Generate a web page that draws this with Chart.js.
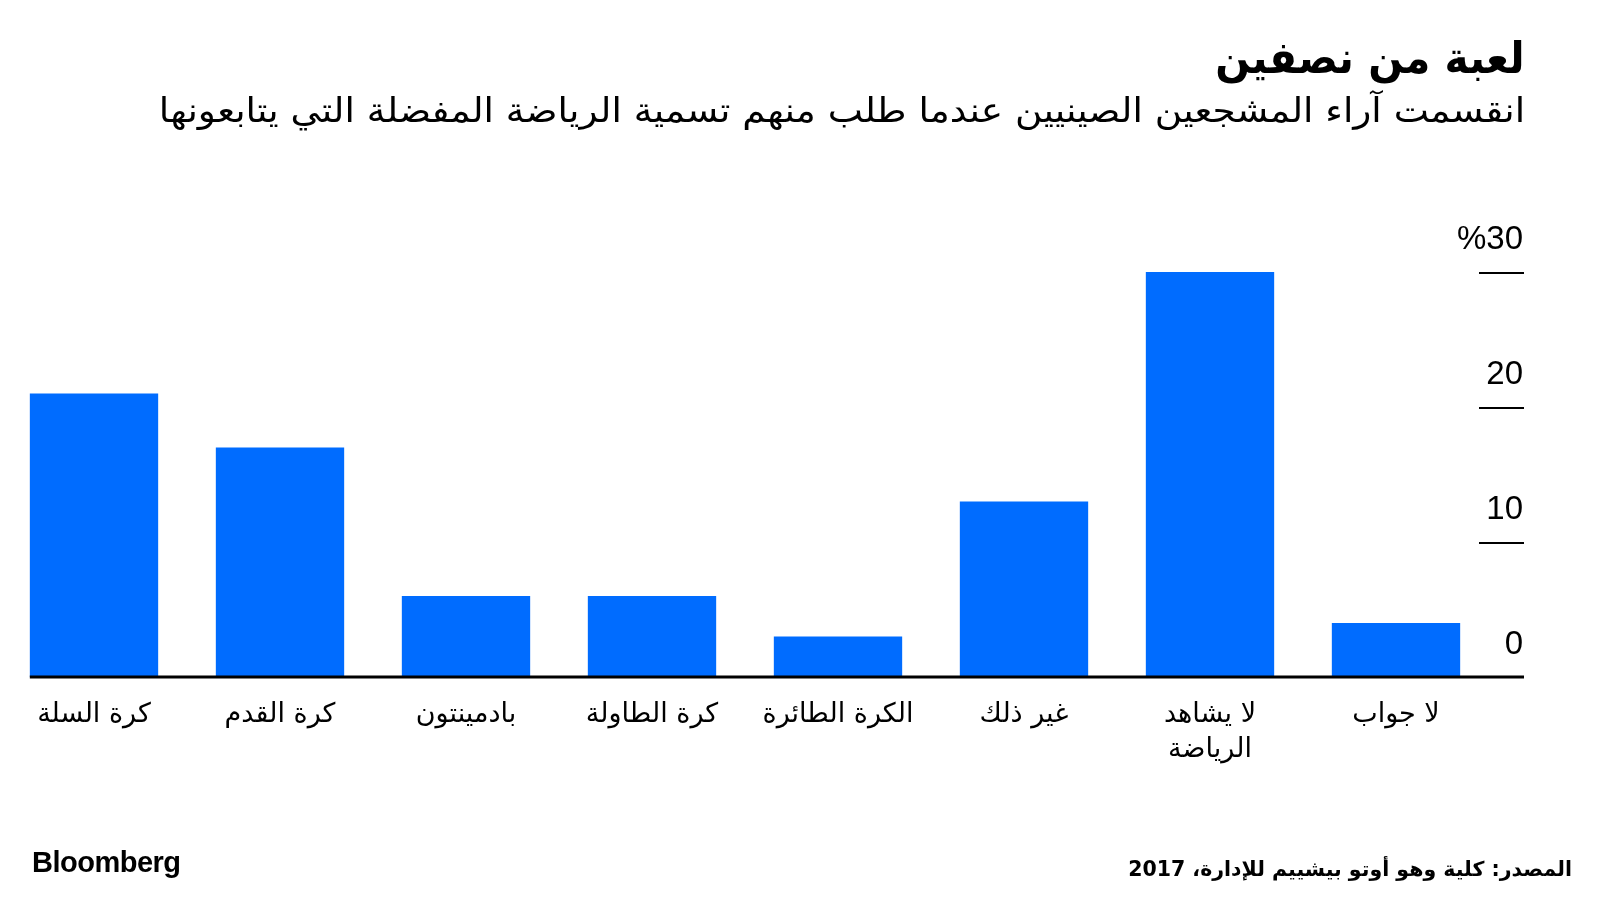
<!DOCTYPE html>
<html lang="ar">
<head>
<meta charset="UTF-8">
<title>لعبة من نصفين</title>
<script src="https://cdn.jsdelivr.net/npm/chart.js"></script>
<style>
    html, body {
        margin: 0;
        padding: 0;
        background: #fff;
    }
    .page {
        position: relative;
        width: 1600px;
        height: 900px;
        overflow: hidden;
    }
    canvas {
        position: absolute;
        left: 0;
        top: 0;
        direction: ltr;
    }
    .txt {
        position: absolute;
        direction: rtl;
        color: #000;
        white-space: nowrap;
        font-family: "DejaVu Sans", sans-serif;
        transform-origin: right center;
    }
    #title {
        right: 75px;
        top: 30px;
        font-size: 44px;
        line-height: 56px;
        font-weight: bold;
        transform: scaleX(0.93);
    }
    #subtitle {
        right: 75px;
        top: 86px;
        font-size: 34px;
        line-height: 48px;
        transform: scaleX(1.1);
    }
    #source {
        right: 28px;
        top: 854px;
        font-size: 20.5px;
        line-height: 30px;
        font-weight: bold;
    }
    #logo {
        position: absolute;
        left: 32px;
        top: 846px;
        font-family: "Liberation Sans", Arial, sans-serif;
        font-weight: bold;
        font-size: 29px;
        letter-spacing: -0.5px;
        color: #000;
    }
</style>
</head>
<body>
<div class="page">
    <canvas id="chart" width="1600" height="900"></canvas>
    <div class="txt" id="title">لعبة من نصفين</div>
    <div class="txt" id="subtitle">انقسمت آراء المشجعين الصينيين عندما طلب منهم تسمية الرياضة المفضلة التي يتابعونها</div>
    <div class="txt" id="source">المصدر: كلية وهو أوتو بيشييم للإدارة، 2017</div>
    <div id="logo">Bloomberg</div>
</div>

<script>
    // categories, left to right as in the picture
    const sports = [
        'كرة السلة',
        'كرة القدم',
        'بادمينتون',
        'كرة الطاولة',
        'الكرة الطائرة',
        'غير ذلك',
        ['لا يشاهد', 'الرياضة'],
        'لا جواب'
    ];

    // share of fans, percent
    const shares = [21, 17, 6, 6, 3, 13, 30, 4];

    const yTicks = [0, 10, 20, 30];
    const tickLabels = ['0', '10', '20', '%30'];

    const barBlue = '#006cff';

    // short tick dashes on the right + thick baseline
    const axisLines = {
        id: 'axisLines',
        afterDatasetsDraw(chart) {
            const ctx = chart.ctx;
            const y = chart.scales.y;
            const bar0 = chart.getDatasetMeta(0).data[0];
            const left = bar0.x - bar0.width / 2;
            const right = y.right + 1;
            ctx.save();
            ctx.strokeStyle = '#000';
            yTicks.forEach(v => {
                if (v === 0) return;
                const py = Math.round(y.getPixelForValue(v)) + 1;
                ctx.lineWidth = 2;
                ctx.beginPath();
                ctx.moveTo(chart.chartArea.right - 10, py);
                ctx.lineTo(right, py);
                ctx.stroke();
            });
            const p0 = y.getPixelForValue(0);
            ctx.lineWidth = 3;
            ctx.beginPath();
            ctx.moveTo(left, p0);
            ctx.lineTo(right, p0);
            ctx.stroke();
            ctx.restore();
        }
    };

    new Chart(document.getElementById('chart'), {
        type: 'bar',
        data: {
            labels: sports,
            datasets: [{
                data: shares,
                backgroundColor: barBlue,
                borderWidth: 0,
                barPercentage: 0.69,
                categoryPercentage: 1
            }]
        },
        options: {
            responsive: false,
            animation: false,
            layout: {
                padding: { left: 1, right: 77, top: 272, bottom: 0 }
            },
            plugins: {
                legend: { display: false },
                tooltip: { enabled: false }
            },
            scales: {
                x: {
                    grid: { display: false },
                    border: { display: false },
                    ticks: {
                        color: '#000',
                        maxRotation: 0,
                        autoSkip: false,
                        padding: 12,
                        font: { family: 'DejaVu Sans', size: 27, lineHeight: 1.3 }
                    },
                    afterFit(scale) {
                        scale.height = 223;
                    }
                },
                y: {
                    position: 'right',
                    min: 0,
                    max: 30,
                    grid: { display: false },
                    border: { display: false },
                    ticks: {
                        stepSize: 10,
                        color: '#000',
                        mirror: true,
                        crossAlign: 'near',
                        padding: 34,
                        labelOffset: -32,
                        font: { family: 'Liberation Sans', size: 33 },
                        callback: function (value) {
                            const i = yTicks.indexOf(Number(value));
                            return i >= 0 ? tickLabels[i] : '';
                        }
                    },
                    afterFit(scale) {
                        scale.width = 34;
                    }
                }
            }
        },
        plugins: [axisLines]
    });
</script>
</body>
</html>
